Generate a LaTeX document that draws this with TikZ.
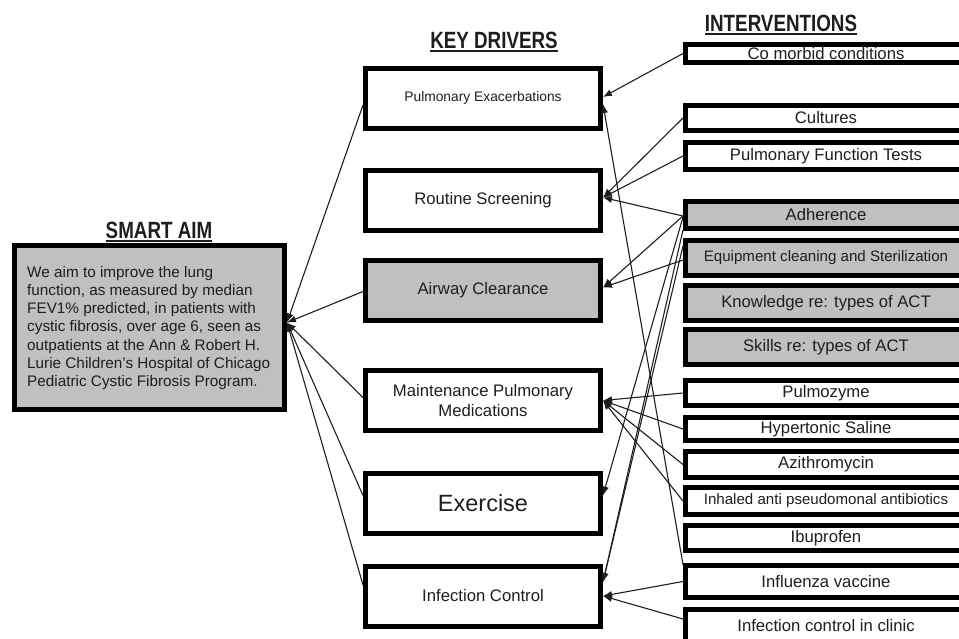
\documentclass[tikz,border=0pt]{standalone}
\usepackage{fontspec}
\setmainfont{Liberation Sans}
\newfontfamily\titlefont[FakeStretch=0.8]{Liberation Sans Bold}
\usetikzlibrary{arrows.meta,calc}
\definecolor{boxgray}{RGB}{192,192,192}
\definecolor{ink}{RGB}{30,30,30}
\begin{document}
\begin{tikzpicture}[x=1pt,y=-1pt,
  drv/.style={draw=black,line width=5pt,minimum width=235pt,minimum height=60pt,inner sep=0pt,align=center,text=ink,font=\fontsize{16.7}{20}\selectfont},
  itv/.style={draw=black,line width=5pt,minimum width=281pt,inner sep=0pt,text=ink,font=\fontsize{16.7}{19}\selectfont},
  gfill/.style={fill=boxgray},
  ttl/.style={font=\titlefont\fontsize{23.5}{25}\selectfont,inner sep=0pt,anchor=base,text=ink},
  uline/.style={draw=ink,line width=1.8pt},
  conn/.style={draw=ink,line width=1.1pt,-{Latex[length=9pt,width=7pt]}},
]
\useasboundingbox (0,0) rectangle (959,638);
\clip (0,0) rectangle (959,638);

% titles
\node[ttl] (tkd) at (494,48) {KEY DRIVERS};
\node[ttl] (tint) at (781,31) {INTERVENTIONS};
\node[ttl] (tsa) at (159,238) {SMART AIM};
\draw[uline] ($(tkd.base west)+(0,3)$) -- ($(tkd.base east)+(0,3)$);
\draw[uline] ($(tint.base west)+(0,3)$) -- ($(tint.base east)+(0,3)$);
\draw[uline] ($(tsa.base west)+(0,3)$) -- ($(tsa.base east)+(0,3)$);

% smart aim
\node[draw=black,line width=5pt,fill=boxgray,minimum width=270pt,minimum height=164pt,inner sep=0pt] (aim) at (149.5,327.5) {};
\node[anchor=west,align=left,inner sep=0pt,text=ink,font=\fontsize{15.3}{18.3}\selectfont] (aimtxt) at (27,328)
 {We aim to improve the lung\\function, as measured by median\\FEV1\% predicted, in patients with\\cystic fibrosis, over age 6, seen as\\outpatients at the Ann \& Robert H.\\Lurie Children’s Hospital of Chicago\\Pediatric Cystic Fibrosis Program.};

% key drivers
\node[drv] (pe) at (483,98) {\fontsize{13.8}{16}\selectfont Pulmonary Exacerbations};
\node[drv] (rs) at (483,200.5) {Routine Screening};
\node[drv,gfill] (ac) at (483,290.5) {Airway Clearance};
\node[drv] (mpm) at (483,400.5) {Maintenance Pulmonary\\Medications};
\node[drv] (ex) at (483,503.5) {\fontsize{23.5}{26}\selectfont Exercise};
\node[drv] (ic) at (483,596) {Infection Control};

% interventions
\node[itv,minimum height=18pt] (cm) at (826,53.5) {Co morbid conditions};
\node[itv,minimum height=25pt] (cult) at (826,118) {Cultures};
\node[itv,minimum height=27pt] (pft) at (826,156) {Pulmonary Function Tests};
\node[itv,gfill,minimum height=27pt] (adh) at (826,215) {Adherence};
\node[itv,gfill,minimum height=35pt] (equip) at (826,258) {\fontsize{15.1}{18}\selectfont Equipment cleaning and Sterilization};
\node[itv,gfill,minimum height=35pt] (know) at (826,303) {Knowledge re: types of ACT};
\node[itv,gfill,minimum height=35pt] (skill) at (826,347) {Skills re: types of ACT};
\node[itv,minimum height=25pt] (pulm) at (826,393) {Pulmozyme};
\node[itv,minimum height=23pt] (hyp) at (826,429) {Hypertonic Saline};
\node[itv,minimum height=26pt] (azi) at (826,464.5) {Azithromycin};
\node[itv,minimum height=27pt] (inh) at (826,501) {\fontsize{15.1}{18}\selectfont Inhaled anti pseudomonal antibiotics};
\node[itv,minimum height=25pt] (ibu) at (826,538) {Ibuprofen};
\node[itv,minimum height=32pt] (flu) at (826,581.5) {Influenza vaccine};
\node[itv,minimum height=33pt] (icc) at (826,626) {Infection control in clinic};

% drivers -> aim
\coordinate (aimin) at ($(aim.east)+(0,-5)$);
\draw[conn] ($(pe.west)+(0,7)$) -- (aimin);
\draw[conn] ($(ac.west)+(0,1)$) -- (aimin);
\draw[conn] ($(mpm.west)+(0,-3)$) -- (aimin);
\draw[conn] ($(ex.west)+(0,-8)$) -- (aimin);
\draw[conn] ($(ic.west)+(0,-11)$) -- (aimin);

% interventions -> drivers
\draw[conn] (cm.west) -- ($(pe.east)+(0,-1)$);
\draw[conn] ($(flu.west)+(0,-17)$) -- ($(pe.east)+(0,6)$);
\draw[conn] (cult.west) -- ($(rs.east)+(0,-3)$);
\draw[conn] (pft.west) -- ($(rs.east)+(0,-3)$);
\draw[conn] ($(adh.west)+(0,1)$) -- ($(rs.east)+(0,-3)$);
\draw[conn] ($(adh.west)+(0,1)$) -- ($(ac.east)+(0,-3)$);
\draw[conn] ($(equip.west)+(0,2)$) -- ($(ac.east)+(0,-3)$);
\draw[conn] ($(adh.west)+(0,2)$) -- ($(ex.east)+(0,-8)$);
\draw[conn] ($(adh.west)+(0,15)$) -- ($(ic.east)+(0,-14)$);
\draw[conn] ($(equip.west)+(0,-12)$) -- ($(ic.east)+(0,-14)$);
\draw[conn] (pulm.west) -- (mpm.east);
\draw[conn] (hyp.west) -- (mpm.east);
\draw[conn] (azi.west) -- (mpm.east);
\draw[conn] (inh.west) -- (mpm.east);
\draw[conn] (flu.west) -- (ic.east);
\draw[conn] ($(icc.west)+(0,-7)$) -- (ic.east);
\end{tikzpicture}
\end{document}
